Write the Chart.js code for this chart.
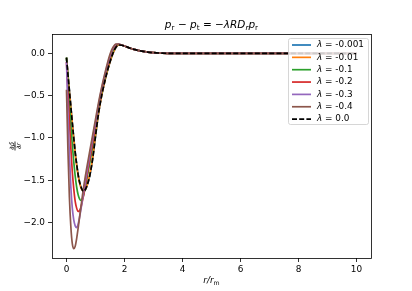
<!DOCTYPE html>
<html>
<head>
<meta charset="utf-8">
<script src="https://cdn.jsdelivr.net/npm/chart.js@4/dist/chart.umd.min.js"></script>
<style>
html,body{margin:0;padding:0;background:#fff;}
canvas{display:block;}
</style>
</head>
<body>
<canvas id="c" width="412" height="291"></canvas>
<script>
// ---- data ----
const rValues = [0, 0.05, 0.1, 0.15, 0.2, 0.25, 0.3, 0.35, 0.4, 0.45, 0.5, 0.55, 0.6, 0.65, 0.7, 0.8, 0.9, 1.0, 1.1, 1.2, 1.3, 1.4, 1.5, 1.6, 1.7, 1.8, 1.9, 2.0, 2.2, 2.4, 2.6, 2.8, 3.0, 3.3, 3.6, 4.0, 5, 6, 7, 8, 9, 10];

const lamM0001 = [-0.05, -0.25, -0.44, -0.63, -0.82, -1.0, -1.17, -1.31, -1.43, -1.52, -1.58, -1.62, -1.63, -1.61, -1.57, -1.45, -1.25, -0.98, -0.72, -0.52, -0.36, -0.22, -0.1, 0.0, 0.07, 0.1, 0.097, 0.088, 0.062, 0.042, 0.027, 0.016, 0.009, 0.004, 0.001, 0, 0, 0, 0, 0, 0, 0];
const lamM001  = [-0.05, -0.25, -0.45, -0.64, -0.83, -1.01, -1.18, -1.32, -1.44, -1.53, -1.59, -1.62, -1.63, -1.61, -1.57, -1.44, -1.24, -0.97, -0.72, -0.52, -0.36, -0.22, -0.1, 0.0, 0.07, 0.1, 0.097, 0.088, 0.062, 0.042, 0.027, 0.016, 0.009, 0.004, 0.001, 0, 0, 0, 0, 0, 0, 0];
const lamM01   = [-0.05, -0.3, -0.58, -0.85, -1.08, -1.28, -1.45, -1.58, -1.67, -1.72, -1.74, -1.72, -1.66, -1.58, -1.49, -1.3, -1.1, -0.88, -0.66, -0.48, -0.33, -0.19, -0.07, 0.03, 0.09, 0.105, 0.1, 0.088, 0.062, 0.042, 0.027, 0.016, 0.009, 0.004, 0.001, 0, 0, 0, 0, 0, 0, 0];
const lamM02   = [-0.1, -0.45, -0.8, -1.12, -1.4, -1.6, -1.75, -1.83, -1.87, -1.86, -1.82, -1.74, -1.66, -1.56, -1.46, -1.26, -1.06, -0.85, -0.64, -0.46, -0.31, -0.17, -0.05, 0.05, 0.1, 0.108, 0.1, 0.088, 0.062, 0.042, 0.027, 0.016, 0.009, 0.004, 0.001, 0, 0, 0, 0, 0, 0, 0];
const lamM03   = [-0.1, -0.7, -1.2, -1.58, -1.83, -1.97, -2.04, -2.06, -2.02, -1.94, -1.84, -1.73, -1.62, -1.51, -1.41, -1.21, -1.01, -0.82, -0.62, -0.44, -0.29, -0.15, -0.03, 0.06, 0.105, 0.11, 0.1, 0.088, 0.062, 0.042, 0.027, 0.016, 0.009, 0.004, 0.001, 0, 0, 0, 0, 0, 0, 0];
const lamM04   = [-0.43, -1.15, -1.7, -2.05, -2.25, -2.31, -2.28, -2.19, -2.07, -1.94, -1.81, -1.68, -1.56, -1.45, -1.35, -1.16, -0.97, -0.78, -0.59, -0.42, -0.27, -0.13, -0.01, 0.07, 0.11, 0.11, 0.1, 0.088, 0.062, 0.042, 0.027, 0.016, 0.009, 0.004, 0.001, 0, 0, 0, 0, 0, 0, 0];
const lam0     = [-0.05, -0.25, -0.44, -0.63, -0.82, -1.0, -1.17, -1.31, -1.43, -1.52, -1.58, -1.62, -1.63, -1.61, -1.57, -1.45, -1.25, -0.98, -0.72, -0.52, -0.36, -0.22, -0.1, 0.0, 0.07, 0.1, 0.097, 0.088, 0.062, 0.042, 0.027, 0.016, 0.009, 0.004, 0.001, 0, 0, 0, 0, 0, 0, 0];

const seriesLabels = ['-0.001', '-0.01', '-0.1', '-0.2', '-0.3', '-0.4', '0.0'];
const seriesValues = [lamM0001, lamM001, lamM01, lamM02, lamM03, lamM04, lam0];
const seriesColors = ['#1f77b4', '#ff7f0e', '#2ca02c', '#d62728', '#9467bd', '#8c564b', '#000000'];

const xTicks = [0, 2, 4, 6, 8, 10];
const yTicks = [0, -0.5, -1.0, -1.5, -2.0];

const FONT = 'DejaVu Sans';
const LW = 1.7;

const datasets = seriesValues.map((vals, i) => ({
  label: seriesLabels[i],
  data: rValues.map((r, k) => ({x: r, y: vals[k]})),
  borderColor: seriesColors[i],
  borderWidth: LW,
  borderDash: i === 6 ? [5, 2.2] : [],
  pointRadius: 0,
  cubicInterpolationMode: 'monotone',
  fill: false,
  order: seriesValues.length - 1 - i
}));

function drawRich(ctx, parts, cx, baseline, size) {
  const fontOf = p => (p.italic ? 'italic ' : '') + (p.sub ? size * 0.7 : size) + 'px "' + FONT + '"';
  let total = 0;
  parts.forEach(p => { ctx.font = fontOf(p); p.w = ctx.measureText(p.t).width; total += p.w; });
  let x = cx - total / 2;
  ctx.textAlign = 'left';
  ctx.textBaseline = 'alphabetic';
  parts.forEach(p => {
    ctx.font = fontOf(p);
    ctx.fillText(p.t, x, baseline + (p.sub ? size * 0.22 : 0));
    x += p.w;
  });
}

const decor = {
  id: 'decor',
  afterDraw(chart) {
    const ctx = chart.ctx;
    const a = chart.chartArea;
    ctx.save();
    // frame
    ctx.strokeStyle = '#000';
    ctx.lineWidth = 0.8;
    ctx.strokeRect(Math.round(a.left) + 0.5, Math.round(a.top) + 0.5, Math.round(a.right - a.left), Math.round(a.bottom - a.top));
    ctx.fillStyle = '#000';
    // title
    drawRich(ctx, [
      {t: 'p', italic: true}, {t: 'r', sub: true}, {t: ' \u2212 '},
      {t: 'p', italic: true}, {t: 't', sub: true}, {t: ' = \u2212'},
      {t: '\u03bbRD', italic: true}, {t: 'r', sub: true, italic: true},
      {t: 'p', italic: true}, {t: 'r', sub: true}
    ], (a.left + a.right) / 2, 28, 10.5);
    // x label
    drawRich(ctx, [
      {t: 'r/r', italic: true}, {t: 'm', sub: true}
    ], (a.left + a.right) / 2, 283, 8.9);
    // y label (fraction, rotated)
    ctx.save();
    ctx.translate(15, (a.top + a.bottom) / 2);
    ctx.rotate(-Math.PI / 2);
    ctx.textAlign = 'center';
    ctx.font = 'italic 6.5px "' + FONT + '"';
    ctx.textBaseline = 'alphabetic';
    ctx.fillText('\u2202\u03c1\u0303', 0, -1.5);
    ctx.textBaseline = 'top';
    ctx.fillText('\u2202r', 0, 1);
    ctx.fillRect(-4.5, -0.4, 9, 0.8);
    ctx.restore();
    // legend
    const lx = 288, ly = 38, lw = 80, lh = 86;
    ctx.beginPath();
    if (ctx.roundRect) ctx.roundRect(lx + 0.5, ly + 0.5, lw, lh, 2); else ctx.rect(lx + 0.5, ly + 0.5, lw, lh);
    ctx.fillStyle = 'rgba(255,255,255,0.8)';
    ctx.fill();
    ctx.strokeStyle = '#cccccc';
    ctx.lineWidth = 0.8;
    ctx.stroke();
    seriesLabels.forEach((lab, i) => {
      const yy = 45 + i * 12.35;
      ctx.beginPath();
      ctx.strokeStyle = seriesColors[i];
      ctx.lineWidth = LW;
      ctx.setLineDash(i === 6 ? [5, 2.2] : []);
      ctx.moveTo(292, yy);
      ctx.lineTo(311, yy);
      ctx.stroke();
      ctx.setLineDash([]);
      ctx.fillStyle = '#000';
      ctx.textBaseline = 'middle';
      ctx.textAlign = 'left';
      ctx.font = 'italic 8.9px "' + FONT + '"';
      ctx.fillText('\u03bb', 317, yy);
      const w = ctx.measureText('\u03bb').width;
      ctx.font = '8.9px "' + FONT + '"';
      ctx.fillText(' = ' + lab, 317 + w, yy);
    });
    ctx.restore();
  }
};

new Chart(document.getElementById('c'), {
  type: 'line',
  data: {datasets},
  options: {
    responsive: false,
    maintainAspectRatio: false,
    animation: false,
    layout: {padding: {left: 12, right: 41, top: 34, bottom: 0}},
    plugins: {legend: {display: false}, tooltip: {enabled: false}, title: {display: false}},
    elements: {point: {radius: 0}},
    scales: {
      x: {
        type: 'linear', min: -0.5, max: 10.5,
        afterBuildTicks: s => { s.ticks = xTicks.map(v => ({value: v})); },
        afterFit: s => { s.height = 33; },
        ticks: {color: '#000', font: {family: FONT, size: 8.9}, padding: 2, maxRotation: 0, callback: v => String(v)},
        grid: {drawOnChartArea: false, drawTicks: true, tickLength: 4, color: '#000', lineWidth: 0.8},
        border: {display: false}
      },
      y: {
        type: 'linear', min: -2.42, max: 0.23,
        afterBuildTicks: s => { s.ticks = yTicks.map(v => ({value: v})); },
        afterFit: s => { s.width = 40; },
        ticks: {color: '#000', font: {family: FONT, size: 8.9}, padding: 3,
          callback: v => (v < 0 ? '\u2212' : '') + Math.abs(v).toFixed(1)},
        grid: {drawOnChartArea: false, drawTicks: true, tickLength: 4, color: '#000', lineWidth: 0.8},
        border: {display: false}
      }
    }
  },
  plugins: [decor]
});
</script>
</body>
</html>
